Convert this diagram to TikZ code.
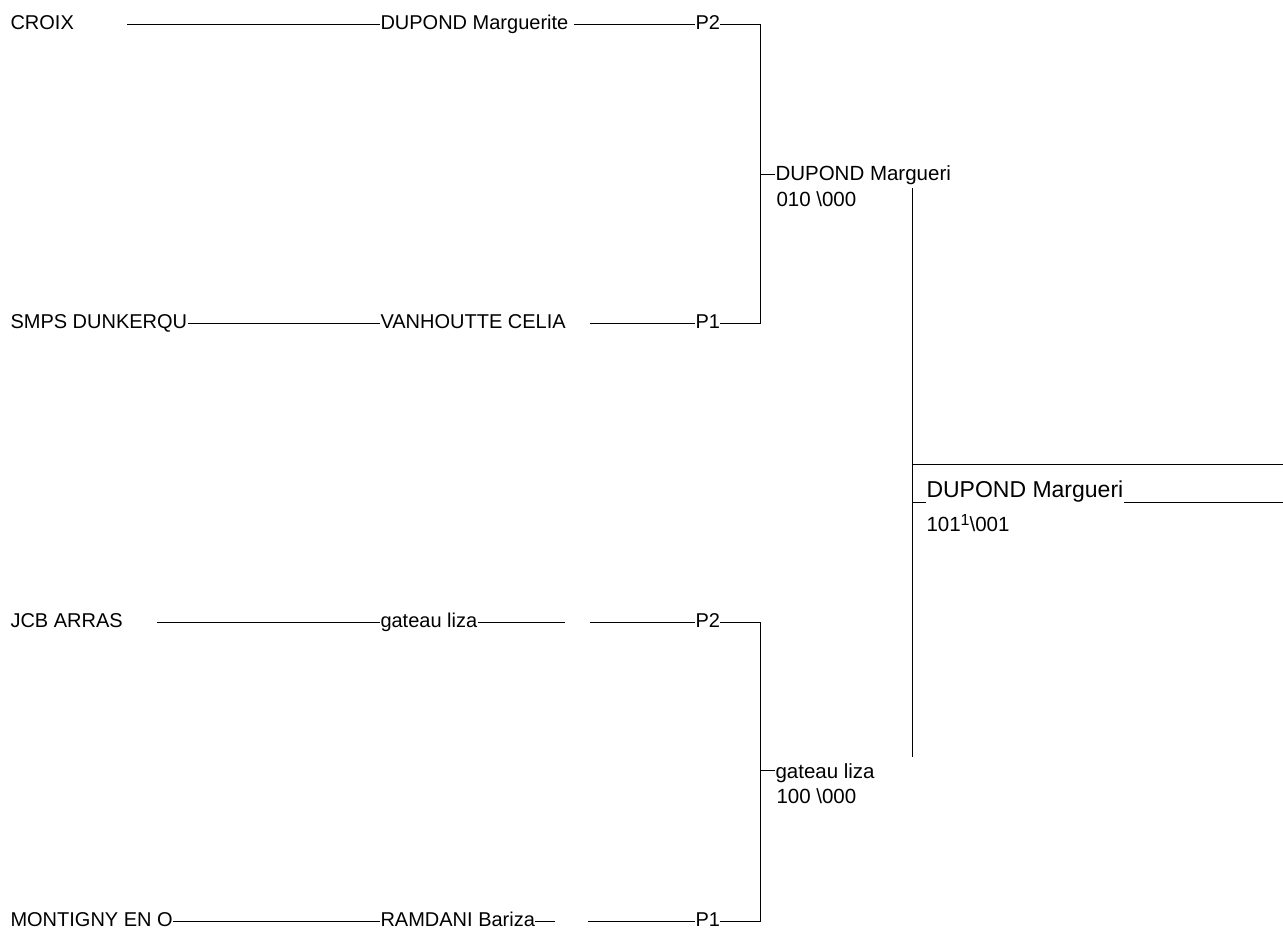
\documentclass[tikz,border=0pt]{standalone}
\usepackage{fontspec}
\setmainfont{Liberation Sans}
\usetikzlibrary{calc}
\tikzset{every path/.style={line width=1pt,line cap=butt}}
\tikzset{lbl/.style={anchor=base west,inner sep=0pt,font=\fontsize{20}{24}\selectfont}}
\tikzset{semi/.style={anchor=base west,inner sep=0pt,font=\fontsize{20.5}{24}\selectfont}}
\tikzset{fin/.style={anchor=base west,inner sep=0pt,font=\fontsize{23}{27}\selectfont}}
\tikzset{score/.style={anchor=base west,inner sep=0pt,font=\fontsize{20.5}{24}\selectfont}}
\newcommand{\supone}{\raisebox{6pt}{\fontsize{16}{18}\selectfont 1}}

\begin{document}
\begin{tikzpicture}[x=1pt,y=-1pt]
\useasboundingbox (0,0) rectangle (1283,929);

\coordinate (r1) at (0,24);
\coordinate (r2) at (0,323);
\coordinate (r3) at (0,622);
\coordinate (r4) at (0,921);
\coordinate (brA) at (760,0);
\coordinate (brB) at (912,0);

\node[lbl] (croix) at (10,29.5) {CROIX};
\node[lbl] (dupM) at (380,29.5) {DUPOND Marguerite};
\node[lbl] (p2a) at (695,29.5) {P2};
\coordinate (croixL) at (127,24);
\coordinate (dupML) at (574,24);

\node[lbl] (smps) at (10,328.5) {SMPS DUNKERQU};
\node[lbl] (vanh) at (380,328.5) {VANHOUTTE CELIA};
\node[lbl] (p1a) at (695,328.5) {P1};
\coordinate (vanhL) at (590,323);

\node[lbl] (jcb) at (10,627.5) {JCB ARRAS};
\node[lbl] (gat) at (380,627.5) {gateau liza};
\node[lbl] (p2b) at (695,627.5) {P2};
\coordinate (jcbL) at (157,622);
\coordinate (gatR) at (565,622);
\coordinate (gatL) at (590,622);

\node[lbl] (mont) at (10,926.5) {MONTIGNY EN O};
\node[lbl] (ramd) at (380,926.5) {RAMDANI Bariza};
\node[lbl] (p1b) at (695,926.5) {P1};
\coordinate (ramdR) at (555,921);
\coordinate (ramdL) at (588,921);

\node[semi] (semA) at (775,180) {DUPOND Margueri};
\node[score] (scA) at (776,206) {010 \textbackslash000};
\coordinate (tA) at (760,174);
\node[semi] (semB) at (775,778) {gateau liza};
\node[score] (scB) at (776,803) {100 \textbackslash000};
\coordinate (tB) at (760,770);

\node[fin] (final) at (926,497) {DUPOND Margueri};
\node[score] (scF) at (926,531) {101\supone\textbackslash001};
\coordinate (fTop) at (912,188);
\coordinate (fBot) at (912,757);
\coordinate (fLine) at (1283,464);
\coordinate (fEnd) at (1283,502);

\draw (croixL) -- (r1 -| dupM.west);
\draw (dupML) -- (r1 -| p2a.west);
\draw (r1 -| p2a.east) -- (r1 -| brA) -- (r2 -| brA) -- (r2 -| p1a.east);
\draw (r2 -| smps.east) -- (r2 -| vanh.west);
\draw (vanhL) -- (r2 -| p1a.west);
\draw (tA) -- (tA -| semA.west);

\draw (jcbL) -- (r3 -| gat.west);
\draw (r3 -| gat.east) -- (gatR);
\draw (gatL) -- (r3 -| p2b.west);
\draw (r3 -| p2b.east) -- (r3 -| brA) -- (r4 -| brA) -- (r4 -| p1b.east);
\draw (r4 -| mont.east) -- (r4 -| ramd.west);
\draw (r4 -| ramd.east) -- (ramdR);
\draw (ramdL) -- (r4 -| p1b.west);
\draw (tB) -- (tB -| semB.west);

\draw (fTop) -- (fBot);
\draw (fLine -| brB) -- (fLine);
\draw (fEnd -| brB) -- (fEnd -| final.west);
\draw (fEnd -| final.east) -- (fEnd);
\end{tikzpicture}
\end{document}
